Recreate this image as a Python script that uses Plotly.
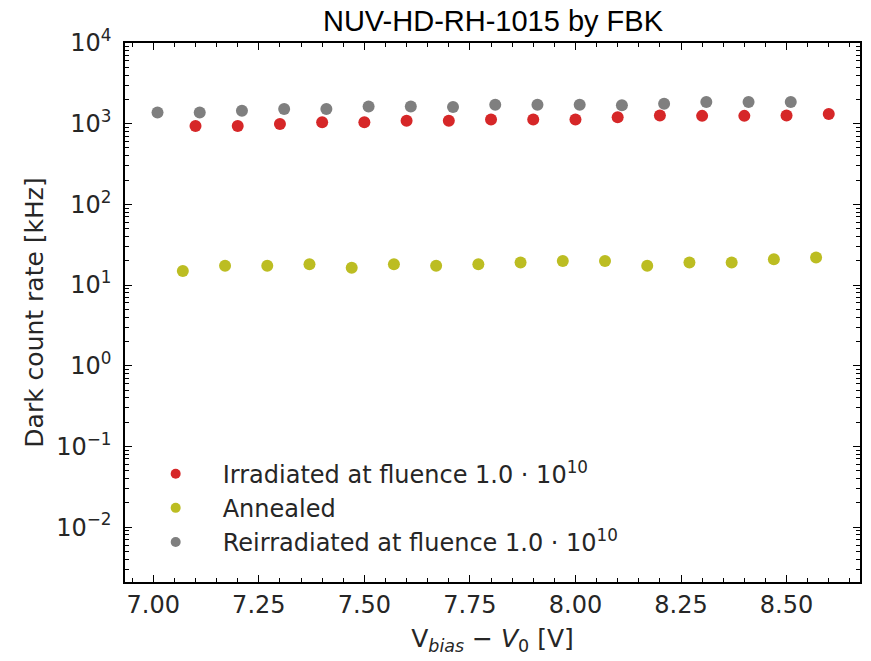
import plotly.graph_objects as go
import numpy as np

# Data
x_irr = [7.1, 7.2, 7.3, 7.4, 7.5, 7.6, 7.7, 7.8, 7.9, 8.0, 8.1, 8.2, 8.3, 8.4, 8.5, 8.6]
y_irr = [935, 935, 990, 1040, 1040, 1090, 1090, 1130, 1130, 1130, 1200, 1260, 1250, 1250, 1260, 1320]

x_ann = [7.07, 7.17, 7.27, 7.37, 7.47, 7.57, 7.67, 7.77, 7.87, 7.97, 8.07, 8.17, 8.27, 8.37, 8.47, 8.57]
y_ann = [14.9, 17.3, 17.3, 18.1, 16.4, 18.1, 17.3, 18.1, 19.0, 19.9, 19.9, 17.3, 19.0, 19.0, 20.9, 21.9]

x_reirr = [7.01, 7.11, 7.21, 7.31, 7.41, 7.51, 7.61, 7.71, 7.81, 7.91, 8.01, 8.11, 8.21, 8.31, 8.41, 8.51]
y_reirr = [1380, 1380, 1450, 1520, 1520, 1630, 1630, 1610, 1720, 1720, 1720, 1690, 1770, 1860, 1860, 1860]

names = ["Irradiated at fluence 1.0 · 10<sup>10</sup>",
         "Annealed",
         "Reirradiated at fluence 1.0 · 10<sup>10</sup>"]
colors = ["#d62728", "#bcbd22", "#7f7f7f"]

x_ticks = [7.00, 7.25, 7.50, 7.75, 8.00, 8.25, 8.50]
x_ticklabels = ["7.00", "7.25", "7.50", "7.75", "8.00", "8.25", "8.50"]
y_ticks = [1e-2, 1e-1, 1e0, 1e1, 1e2, 1e3, 1e4]
y_ticklabels = ["10<sup>−2</sup>", "10<sup>−1</sup>", "10<sup>0</sup>", "10<sup>1</sup>",
                "10<sup>2</sup>", "10<sup>3</sup>", "10<sup>4</sup>"]

font_family = "DejaVu Sans"
text_color = "#262626"

fig = go.Figure()
for xs, ys, c in [(x_irr, y_irr, colors[0]), (x_ann, y_ann, colors[1]), (x_reirr, y_reirr, colors[2])]:
    fig.add_trace(go.Scatter(x=xs, y=ys, mode="markers", showlegend=False,
                             marker=dict(color=c, size=12, line=dict(width=0))))
# legend entries with smaller markers
for n, c in zip(names, colors):
    fig.add_trace(go.Scatter(x=[None], y=[None], mode="markers", name=n,
                             marker=dict(color=c, size=10, line=dict(width=0))))

y_minor = [m * 10.0 ** k for k in range(-3, 4) for m in range(2, 10)]
x_minor = list(np.round(np.arange(6.95, 8.70, 0.05), 2))

axis_common = dict(showgrid=False, zeroline=False, showline=True, linecolor="black",
                   linewidth=1.5, mirror="allticks", ticks="inside", tickcolor="black",
                   tickwidth=1, ticklen=7,
                   tickfont=dict(family=font_family, size=24, color=text_color))

fig.update_xaxes(range=[6.933, 8.674], tickvals=x_ticks, ticktext=x_ticklabels,
                 minor=dict(tickvals=x_minor, ticks="inside", ticklen=4, tickcolor="black"),
                 ticklabelstandoff=0,
                 title=dict(text="V<sub><i>bias</i></sub> − <i>V</i><sub>0</sub> [V]",
                            font=dict(family=font_family, size=25, color=text_color), standoff=12),
                 **axis_common)
fig.update_yaxes(type="log", range=[-2.68, 4], tickvals=y_ticks, ticktext=y_ticklabels,
                 minor=dict(tickvals=y_minor, ticks="inside", ticklen=4, tickcolor="black"),
                 ticklabelstandoff=7,
                 title=dict(text="Dark count rate [kHz]",
                            font=dict(family=font_family, size=25, color=text_color), standoff=5),
                 **axis_common)

fig.update_layout(
    width=871, height=661,
    margin=dict(l=125, r=9, t=43, b=79),
    paper_bgcolor="white", plot_bgcolor="white",
    title=dict(text="NUV-HD-RH-1015 by FBK", x=0.566, xanchor="center", y=0.968, yanchor="middle",
               font=dict(family="Liberation Sans", size=29, color="black")),
    legend=dict(x=0.005, y=0.242, xanchor="left", yanchor="top", bgcolor="rgba(0,0,0,0)",
                font=dict(family=font_family, size=24, color=text_color),
                itemsizing="trace", itemwidth=84, tracegroupgap=0),
)

fig.write_html("out.html")
